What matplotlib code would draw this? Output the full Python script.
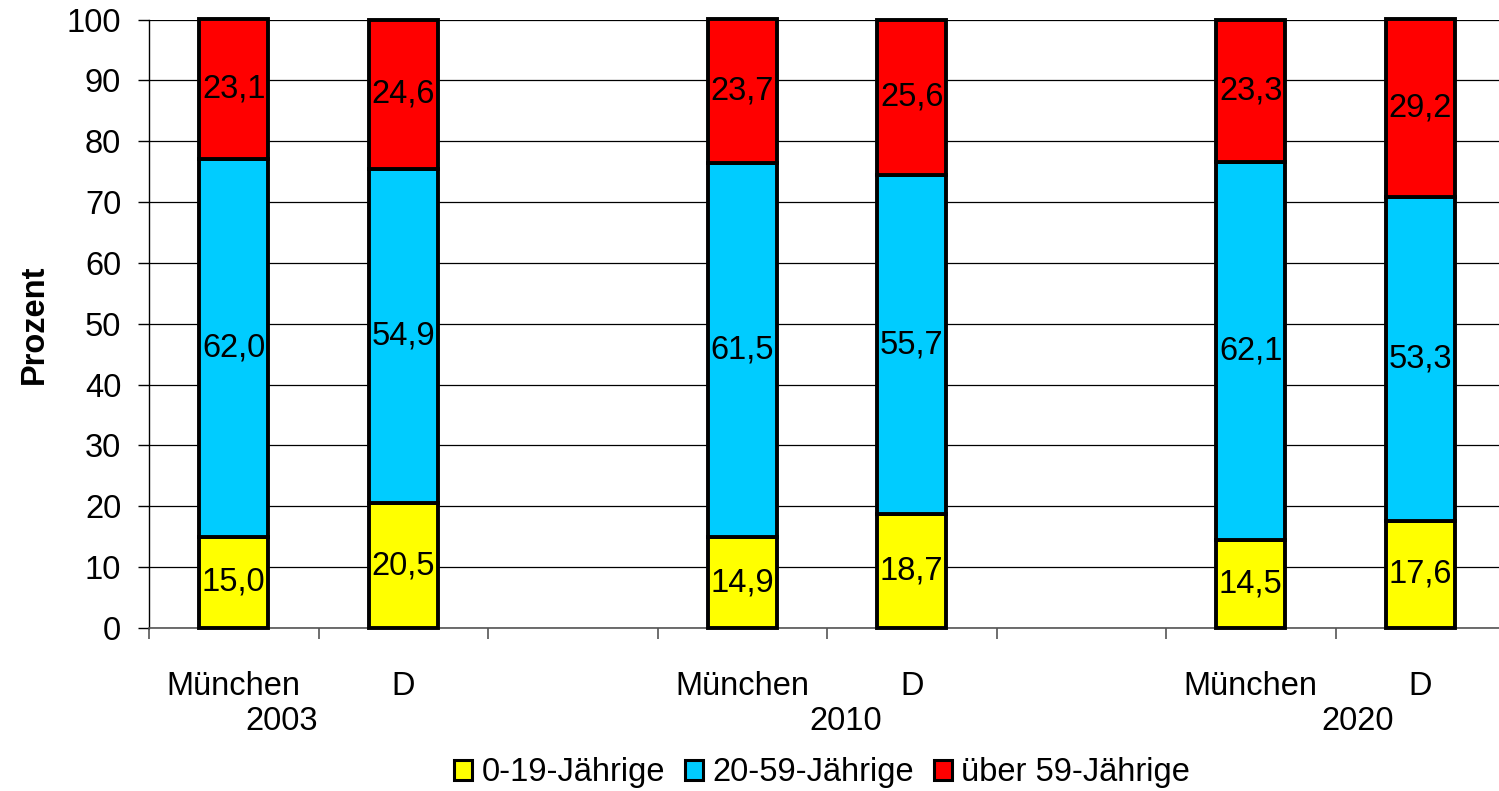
import matplotlib.pyplot as plt
from matplotlib.patches import Patch

plt.rcParams['font.family'] = ['Liberation Sans', 'DejaVu Sans']

places = ['München', 'D', 'München', 'D', 'München', 'D']
years = ['2003', '2010', '2020']
young = [15.0, 20.5, 14.9, 18.7, 14.5, 17.6]
middle = [62.0, 54.9, 61.5, 55.7, 62.1, 53.3]
old = [23.1, 24.6, 23.7, 25.6, 23.3, 29.2]
series_names = ['0-19-Jährige', '20-59-Jährige', 'über 59-Jährige']
colors = ['#FFFF00', '#00CCFF', '#FF0000']

# bars sit in slots 0,1 / 3,4 / 6,7 with an empty slot between the years
pos = [0, 1, 3, 4, 6, 7]
fs = 23.5

fig = plt.figure(figsize=(14.99, 7.91), dpi=100)
ax = fig.add_axes([149 / 1499, 163 / 791, 1356 / 1499, 608.5 / 791])

bottom = [0] * len(pos)
for vals, col in zip([young, middle, old], colors):
    bars = ax.bar(pos, vals, 0.41, bottom=bottom, color=col,
                  edgecolor='black', linewidth=2.8, zorder=3, clip_on=False)
    ax.bar_label(bars, labels=[f'{v:.1f}'.replace('.', ',') for v in vals],
                 label_type='center', fontsize=fs, zorder=4)
    bottom = [b + v for b, v in zip(bottom, vals)]

ax.set_xlim(-0.5, 7.5)
ax.set_ylim(0, 100)
ax.set_yticks(range(0, 101, 10))
ax.tick_params(axis='y', labelsize=fs, length=8, width=1, direction='out', pad=12)
ax.yaxis.grid(True, color='black', linewidth=0.9, zorder=0)
ax.set_axisbelow(True)

ax.set_xticks(pos)
ax.set_xticklabels(places, fontsize=fs)
ax.tick_params(axis='x', which='major', length=0, pad=31)
ax.set_xticks([-0.5, 0.5, 1.5, 2.5, 3.5, 4.5, 5.5, 6.5], minor=True)
ax.tick_params(axis='x', which='minor', length=8, width=1.2, color='#555555')

for s in ['top', 'right']:
    ax.spines[s].set_visible(False)
ax.spines['left'].set_linewidth(1)
ax.spines['bottom'].set_color('#555555')
ax.spines['bottom'].set_linewidth(1.2)

year_x = [0.28, 3.61, 6.63]
for x, y in zip(year_x, years):
    ax.text(x, -15.3, y, ha='center', va='center', fontsize=fs,
            transform=ax.transData, clip_on=False)

ax.set_ylabel('Prozent', fontsize=fs, fontweight='bold')
ax.yaxis.set_label_coords(-0.073, 0.5)

handles = [Patch(facecolor=c, edgecolor='black', linewidth=2.2) for c in colors]
fig.legend(handles, series_names, loc='center', bbox_to_anchor=(822 / 1499, 1 - 773 / 791),
           ncol=3, frameon=False, fontsize=fs, handlelength=0.55, handleheight=0.55,
           handletextpad=0.3, columnspacing=0.6, borderpad=0)

fig.savefig('out.png', dpi=100)
